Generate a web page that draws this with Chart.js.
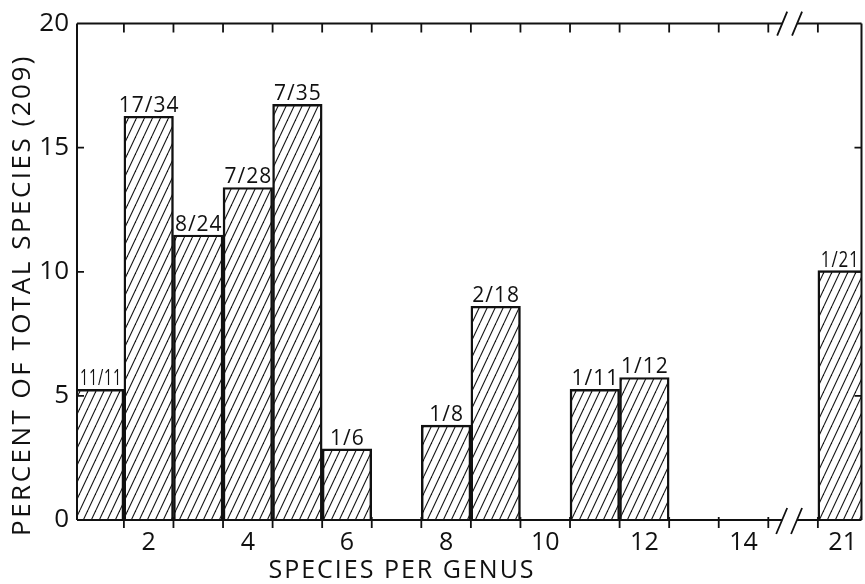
<!DOCTYPE html>
<html>
<head>
<meta charset="utf-8">
<script src="https://cdn.jsdelivr.net/npm/chart.js@4.4.1/dist/chart.umd.min.js"></script>
<style>
  html, body { margin: 0; padding: 0; background: #fff; }
  #wrap { width: 865px; height: 584px; position: relative; }
</style>
</head>
<body>
<div id="wrap"><canvas id="chart"></canvas></div>
<script>
// species per genus: slot on the axis, genera and species counts
const slots = [1, 2, 3, 4, 5, 6, 8, 9, 11, 12, 16];
const genera = [11, 17, 8, 7, 7, 1, 1, 2, 1, 1, 1];
const species = [11, 34, 24, 28, 35, 6, 8, 18, 11, 12, 21];
const totalSpecies = 209;

// x tick labels (slot 16 stands for 21 after the axis break)
const tickSlots = [2, 4, 6, 8, 10, 12, 14, 16];
const tickNames = ['2', '4', '6', '8', '10', '12', '14', '21'];
const yTicks = [0, 5, 10, 15, 20];

const FONT = '"Open Sans", "DejaVu Sans", sans-serif';
const INK = '#111';

const percent = species.map(s => s / totalSpecies * 100);
const barLabels = genera.map((g, i) => g + '/' + species[i]);

function hatch() {
  const c = document.createElement('canvas');
  c.width = 8; c.height = 17;
  const g = c.getContext('2d');
  g.strokeStyle = INK;
  g.lineWidth = 1.1;
  for (const dx of [-8, 0, 8]) {
    g.beginPath();
    g.moveTo(dx, 17);
    g.lineTo(dx + 8, 0);
    g.stroke();
  }
  return g.createPattern(c, 'repeat');
}

// frame, tick marks, axis breaks, bar labels and axis titles
const decor = {
  id: 'decor',
  afterDatasetsDraw(chart) {
    const { ctx, chartArea: a, scales: { x, y } } = chart;
    ctx.save();
    ctx.strokeStyle = INK;
    ctx.lineWidth = 2;
    ctx.lineCap = 'butt';

    const b1 = x.getPixelForValue(14.78);
    const b2 = x.getPixelForValue(15.08);

    ctx.beginPath();
    ctx.moveTo(a.left, a.top); ctx.lineTo(a.left, a.bottom);
    ctx.moveTo(a.right, a.top); ctx.lineTo(a.right, a.bottom);
    ctx.moveTo(a.left, a.top); ctx.lineTo(b1, a.top);
    ctx.moveTo(b2, a.top); ctx.lineTo(a.right, a.top);
    ctx.moveTo(a.left, a.bottom); ctx.lineTo(b1, a.bottom);
    ctx.moveTo(b2, a.bottom); ctx.lineTo(a.right, a.bottom);
    ctx.stroke();

    // break slashes
    ctx.lineWidth = 1.8;
    ctx.beginPath();
    for (const bx of [b1, b2]) {
      ctx.moveTo(bx - 5, a.top + 12); ctx.lineTo(bx + 5, a.top - 12);
      ctx.moveTo(bx - 6, a.bottom + 14); ctx.lineTo(bx + 5, a.bottom - 12);
    }
    ctx.stroke();

    // x tick marks between slots, y ticks on both sides
    ctx.beginPath();
    for (let v = 1.5; v <= 15.5; v += 1) {
      const px = x.getPixelForValue(v);
      ctx.moveTo(px, a.bottom - 3); ctx.lineTo(px, a.bottom + 8);
      ctx.moveTo(px, a.top); ctx.lineTo(px, a.top + 9);
    }
    for (const v of [5, 10, 15]) {
      const py = y.getPixelForValue(v);
      ctx.moveTo(a.left, py); ctx.lineTo(a.left + 7, py);
      ctx.moveTo(a.right - 7, py); ctx.lineTo(a.right, py);
    }
    ctx.stroke();

    // labels over the bars, centred on the visible part of each bar and
    // squeezed sideways when they would cross the frame
    ctx.fillStyle = INK;
    ctx.font = '21px ' + FONT;
    ctx.letterSpacing = '1px';
    ctx.textAlign = 'center';
    ctx.textBaseline = 'alphabetic';
    chart.getDatasetMeta(0).data.forEach((bar, i) => {
      const l = Math.max(a.left, bar.x - bar.width / 2);
      const r = Math.min(a.right, bar.x + bar.width / 2);
      const cx = (l + r) / 2 + 0.5;
      const w = ctx.measureText(barLabels[i]).width;
      const room = 2 * Math.min(cx - a.left - 3, a.right - 2 - cx);
      const k = w > room ? room / w : 1;
      ctx.save();
      ctx.translate(cx, bar.y - 4);
      ctx.scale(k, 1);
      ctx.fillText(barLabels[i], 0, 0);
      ctx.restore();
    });

    // axis titles
    ctx.font = '25px ' + FONT;
    ctx.letterSpacing = '2px';
    ctx.textBaseline = 'middle';
    ctx.fillText('SPECIES PER GENUS', 402, 571);
    ctx.font = '26px ' + FONT;
    ctx.letterSpacing = '2.5px';
    ctx.translate(23, 295);
    ctx.rotate(-Math.PI / 2);
    ctx.fillText('PERCENT OF TOTAL SPECIES (209)', 0, 0);
    ctx.restore();
  }
};

new Chart(document.getElementById('chart'), {
  type: 'bar',
  data: {
    datasets: [{
      data: slots.map((s, i) => ({ x: s, y: percent[i] })),
      backgroundColor: hatch(),
      borderColor: INK,
      borderWidth: 1.8,
      borderSkipped: 'bottom',
      barPercentage: 1,
      categoryPercentage: 1
    }]
  },
  options: {
    responsive: true,
    maintainAspectRatio: false,
    animation: false,
    layout: { padding: { top: 23, right: 2, left: 0, bottom: 0 } },
    plugins: { legend: { display: false }, tooltip: { enabled: false } },
    scales: {
      x: {
        type: 'linear',
        min: 0.554,
        max: 16.38,
        offset: false,
        grid: { display: false, drawTicks: false },
        border: { display: false },
        afterFit: s => { s.height = 64; },
        afterBuildTicks: s => { s.ticks = tickSlots.map(v => ({ value: v })); },
        ticks: {
          autoSkip: false,
          maxRotation: 0,
          padding: 8,
          color: INK,
          font: { family: FONT, size: 25 },
          callback: v => tickNames[tickSlots.indexOf(v)]
        }
      },
      y: {
        min: 0,
        max: 20,
        grid: { display: false, drawTicks: false },
        border: { display: false },
        afterFit: s => { s.width = 77; },
        afterBuildTicks: s => { s.ticks = yTicks.map(v => ({ value: v })); },
        ticks: {
          padding: 8,
          color: INK,
          font: { family: FONT, size: 26 }
        }
      }
    }
  },
  plugins: [decor]
});
</script>
</body>
</html>
